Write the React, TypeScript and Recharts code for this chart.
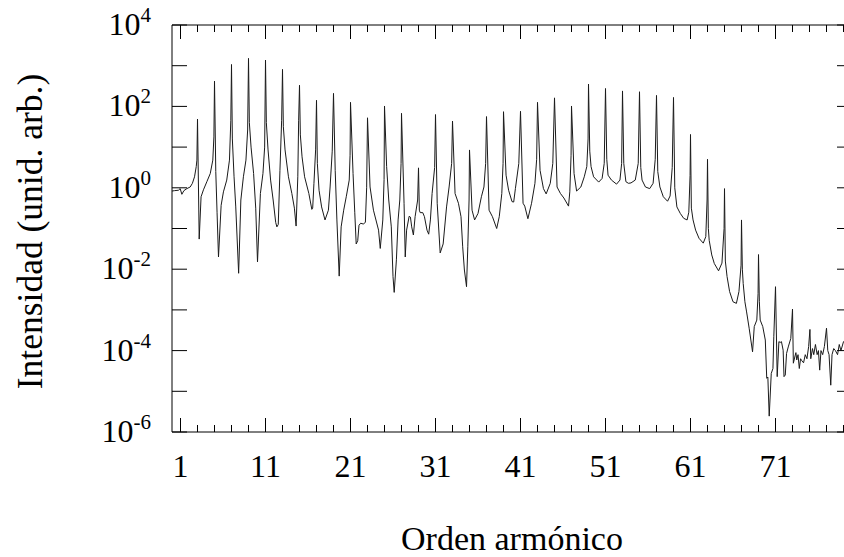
import React from 'react';
import { LineChart, Line, XAxis, YAxis } from 'recharts';

// Harmonic spectrum: [harmonic order, log10(intensity)] pairs.
const lowOrderPoints: [number, number][] = [
  [0.0, -0.08], [0.3, -0.07], [0.76, -0.06], [0.96, -0.02], [1.16, -0.16], [1.4, -0.07], [1.75, -0.02], [2.14, 0.02], [2.4, 0.11], [2.65, 0.27], [2.85, 0.52], [2.93, 0.68], [3.0, 1.69],
  [3.2, -1.26], [3.42, -0.22], [3.7, -0.05], [4.1, 0.15], [4.5, 0.35], [4.8, 0.68], [4.93, 1.25], [5.0, 2.62],
  [5.15, 0.4], [5.3, -0.6], [5.47, -1.7], [5.78, -0.43], [6.05, -0.1], [6.44, 0.19], [6.76, 0.68], [6.92, 1.66], [7.0, 3.03],
  [7.1, 1.2], [7.3, 0.27], [7.5, -0.47], [7.84, -2.1], [8.1, -0.3], [8.4, 0.27], [8.7, 0.68], [8.9, 1.42], [9.0, 3.18],
  [9.1, 1.6], [9.3, 1.0], [9.6, 0.35], [9.85, -0.5], [10.06, -1.82], [10.4, -0.14], [10.7, 0.35], [10.9, 1.0], [11.0, 3.14],
  [11.1, 1.6], [11.3, 0.93], [11.6, 0.19], [11.9, -0.3], [12.2, -0.85], [12.34, -0.96], [12.5, -0.9], [12.7, 0.43], [12.9, 1.66], [13.0, 2.91],
  [13.1, 1.5], [13.3, 0.93], [13.7, 0.27], [14.1, -0.14], [14.4, -0.5], [14.6, -0.94], [14.8, 0.27], [14.9, 1.66], [15.0, 2.52],
  [15.1, 1.3], [15.3, 0.76], [15.6, 0.27], [16.1, -0.14], [16.45, -0.53], [16.55, -0.5], [16.7, 0.11], [16.9, 0.95], [17.0, 2.15],
  [17.1, 0.6], [17.3, -0.06], [17.6, -0.47], [18.0, -0.79], [18.4, -0.55], [18.6, 0.02], [18.85, 0.9], [19.0, 2.32],
  [19.2, 0.43], [19.4, -0.79], [19.67, -2.17], [19.9, -0.96], [20.2, -0.55], [20.5, -0.22], [20.85, 0.19], [20.95, 0.8], [21.0, 2.1],
  [21.3, 0.35], [21.5, -0.6], [21.67, -1.38], [21.85, -1.3], [22.0, -0.92], [22.2, -0.87], [22.5, -0.89], [22.75, -0.85], [22.9, 0.0], [23.0, 1.72],
];

const plateauPoints: [number, number][] = [
  [23.3, 0.02], [23.7, -0.55], [24.3, -1.04], [24.5, -1.49], [24.8, -0.79], [24.95, 0.2], [25.0, 2.01],
  [25.25, 0.52], [25.5, -0.3], [25.8, -0.96], [26.0, -2.18], [26.14, -2.57], [26.4, -1.77], [26.6, -0.79], [26.8, -0.3], [26.95, 0.6], [27.0, 1.83],
  [27.3, -0.38], [27.44, -1.7], [27.6, -1.04], [27.9, -0.7], [28.05, -0.72], [28.2, -0.96], [28.4, -1.16], [28.6, -0.71], [28.9, -0.3], [29.0, 0.49],
  [29.1, -0.55], [29.2, -0.61], [29.5, -0.61], [29.7, -0.71], [30.0, -1.04], [30.2, -1.14], [30.4, -0.79], [30.6, -0.14], [30.9, 0.5], [31.0, 1.8],
  [31.2, -0.38], [31.55, -1.6], [31.9, -1.38], [32.3, -0.47], [32.6, 0.02], [32.9, 0.6], [33.0, 1.64],
  [33.3, -0.14], [33.7, -0.38], [34.0, -0.71], [34.2, -1.45], [34.4, -2.02], [34.65, -2.43], [34.8, -1.45], [34.95, -0.3], [35.0, 0.93],
  [35.3, -0.55], [35.6, -0.79], [36.0, -0.63], [36.4, -0.22], [36.7, 0.02], [36.9, 0.6], [37.0, 1.75],
  [37.3, -0.55], [37.7, -0.71], [38.2, -1.0], [38.5, -0.71], [38.8, -0.14], [38.95, 0.6], [39.0, 1.87],
  [39.3, 0.31], [39.6, -0.06], [40.0, -0.34], [40.2, -0.35], [40.4, -0.02], [40.8, 0.6], [41.0, 1.88],
  [41.3, -0.38], [41.5, -0.45], [41.87, -0.76], [42.3, -0.38], [42.7, 0.11], [42.9, 0.7], [43.0, 2.1],
  [43.3, 0.43], [43.7, -0.02], [44.02, -0.15], [44.5, 0.11], [44.8, 0.6], [45.0, 2.21],
  [45.3, 0.02], [45.7, -0.14], [46.1, -0.25], [46.65, -0.45], [46.8, -0.1], [46.95, 0.8], [47.0, 2.01],
  [47.3, 0.35], [47.6, -0.08], [48.1, 0.02], [48.5, 0.27], [48.8, 0.52], [48.95, 1.2], [49.0, 2.55],
  [49.15, 0.9], [49.3, 0.52], [49.6, 0.27], [50.2, 0.14], [50.6, 0.23], [50.85, 0.6], [51.0, 2.44],
  [51.15, 0.7], [51.3, 0.31], [51.7, 0.19], [52.3, 0.09], [52.7, 0.19], [52.9, 0.6], [53.0, 2.38],
  [53.15, 0.6], [53.4, 0.15], [53.7, 0.11], [54.0, 0.12], [54.5, 0.19], [54.85, 0.6], [55.0, 2.36],
  [55.15, 0.5], [55.3, 0.19], [55.7, 0.02], [56.2, -0.02], [56.6, 0.11], [56.85, 0.7], [57.0, 2.27],
  [57.15, 0.4], [57.4, 0.02], [57.8, -0.22], [58.3, -0.33], [58.6, -0.2], [58.85, 0.5], [59.0, 2.22],
];

const cutoffPoints: [number, number][] = [
  [59.15, 0.0], [59.4, -0.47], [59.8, -0.63], [60.2, -0.75], [60.6, -0.79], [60.8, -0.6], [60.95, 0.3], [61.0, 1.31],
  [61.1, -0.5], [61.3, -0.79], [61.6, -1.04], [62.0, -1.24], [62.5, -1.36], [62.8, -1.2], [62.95, -0.3], [63.0, 0.7],
  [63.1, -1.0], [63.2, -1.29], [63.5, -1.65], [63.8, -1.86], [64.3, -2.04], [64.7, -1.85], [64.95, -1.0], [65.0, -0.02],
  [65.1, -1.8], [65.3, -2.18], [65.6, -2.55], [66.0, -2.8], [66.4, -2.84], [66.7, -2.55], [66.95, -1.9], [67.0, -0.79],
  [67.1, -2.0], [67.2, -2.35], [67.4, -2.8], [67.6, -3.05], [67.9, -3.45], [68.1, -3.74], [68.3, -4.03], [68.5, -3.41], [68.8, -3.25], [68.95, -2.6], [69.0, -1.64],
  [69.1, -2.8], [69.2, -3.25], [69.5, -3.41], [69.8, -3.74], [69.97, -4.68], [70.1, -4.65], [70.26, -5.61], [70.5, -4.56], [70.7, -4.44], [70.8, -3.66], [71.0, -2.43],
  [71.2, -4.64], [71.4, -3.78], [71.55, -3.8], [71.7, -3.78], [71.9, -3.99], [72.0, -4.64], [72.15, -4.6], [72.3, -4.07], [72.5, -3.91], [72.8, -3.7], [73.0, -2.98],
  [73.1, -4.31], [73.3, -4.13], [73.4, -4.05], [73.5, -4.23], [73.65, -4.1], [73.8, -4.44], [73.95, -4.2], [74.1, -4.25], [74.3, -4.3], [74.5, -4.1], [74.7, -4.2], [74.9, -3.9],
  [75.05, -3.48], [75.15, -4.2], [75.35, -3.95], [75.5, -4.1], [75.7, -3.85], [75.9, -4.1], [76.05, -4.0], [76.2, -4.48], [76.35, -4.0], [76.55, -4.1], [76.75, -3.9],
  [77.0, -3.45], [77.15, -4.0], [77.3, -4.1], [77.5, -4.85], [77.65, -4.1], [77.85, -3.95], [78.05, -4.0], [78.3, -4.1], [78.5, -3.85], [78.7, -4.0], [79.0, -3.78],
  [79.3, -3.8], [79.6, -3.6], [80.0, -3.5],
];

// Axis ticks
const xTicks = [1, 3, 5, 7, 9, 11, 13, 15, 17, 19, 21, 23, 25, 27, 29, 31, 33, 35, 37, 39, 41, 43, 45, 47, 49, 51, 53, 55, 57, 59, 61, 63, 65, 67, 69, 71, 73, 75, 77, 79];
const xLabelled = [1, 11, 21, 31, 41, 51, 61, 71];
const yExponents = [-6, -5, -4, -3, -2, -1, 0, 1, 2, 3, 4];
const yLabelledExponents = [-6, -4, -2, 0, 2, 4];

const data = [...lowOrderPoints, ...plateauPoints, ...cutoffPoints].map(([order, logI]) => ({
  order,
  intensity: Math.pow(10, logI),
}));

const yTicks = yExponents.map((e) => Math.pow(10, e));
const FONT = '"Liberation Serif", "Times New Roman", serif';
const MAJOR_X = 14;
const MINOR_X = 7;
const Y_TICK = 15;

const expOf = (v: number) => Math.round(Math.log10(v));

const LeftTick = (props: any) => {
  const { x, y, payload } = props;
  const e = expOf(payload.value);
  return (
    <g>
      <line x1={x} x2={x + Y_TICK} y1={y} y2={y} stroke="#000" strokeWidth={1} />
      {yLabelledExponents.includes(e) && (
        <text x={x - 21} y={y + 10} textAnchor="end" fontFamily={FONT} fontSize={32} fill="#000">
          <tspan>10</tspan>
          <tspan dy={-13} fontSize={21}>{String(e)}</tspan>
        </text>
      )}
    </g>
  );
};

const RightTick = (props: any) => {
  const { x, y } = props;
  return <line x1={x - Y_TICK} x2={x} y1={y} y2={y} stroke="#000" strokeWidth={1} />;
};

const BottomTick = (props: any) => {
  const { x, y, payload } = props;
  const major = xLabelled.includes(payload.value);
  const len = major ? MAJOR_X : MINOR_X;
  return (
    <g>
      <line x1={x} x2={x} y1={y - len} y2={y} stroke="#000" strokeWidth={1} />
      {major && (
        <text x={x} y={y + 44.5} textAnchor="middle" fontFamily={FONT} fontSize={32} fill="#000">
          {payload.value}
        </text>
      )}
    </g>
  );
};

const TopTick = (props: any) => {
  const { x, y, payload } = props;
  const len = xLabelled.includes(payload.value) ? MAJOR_X : MINOR_X;
  return <line x1={x} x2={x} y1={y} y2={y + len} stroke="#000" strokeWidth={1} />;
};

const XTitle = (props: any) => {
  const { viewBox } = props;
  return (
    <text x={viewBox.x + viewBox.width / 2} y={550} textAnchor="middle" fontFamily={FONT} fontSize={34} fill="#000">
      Orden armónico
    </text>
  );
};

const YTitle = (props: any) => {
  const { viewBox } = props;
  const cy = viewBox.y + viewBox.height / 2 + 3;
  return (
    <text x={41.5} y={cy} transform={`rotate(-90 41.5 ${cy})`} textAnchor="middle" fontFamily={FONT} fontSize={35.5} fill="#000">
      Intensidad (unid. arb.)
    </text>
  );
};

export default function App() {
  return (
    <div style={{ position: 'absolute', left: 0, top: 0, width: 844, height: 557, overflow: 'hidden', background: '#fff' }}>
      <LineChart width={870} height={557} data={data} margin={{ top: 0, right: 0, bottom: 0, left: 0 }}>
        <XAxis
          xAxisId="bottom"
          dataKey="order"
          type="number"
          domain={[0, 80]}
          ticks={xTicks}
          interval={0}
          height={125}
          tickSize={0}
          tickMargin={0}
          tickLine={false}
          axisLine={{ stroke: '#000', strokeWidth: 1 }}
          tick={BottomTick}
          label={<XTitle />}
        />
        <XAxis
          xAxisId="top"
          orientation="top"
          dataKey="order"
          type="number"
          domain={[0, 80]}
          ticks={xTicks}
          interval={0}
          height={25}
          tickSize={0}
          tickMargin={0}
          tickLine={false}
          axisLine={{ stroke: '#000', strokeWidth: 1 }}
          tick={TopTick}
        />
        <YAxis
          yAxisId="left"
          type="number"
          scale="log"
          domain={[1e-6, 1e4]}
          allowDataOverflow
          ticks={yTicks}
          interval={0}
          width={172}
          tickSize={0}
          tickMargin={0}
          tickLine={false}
          axisLine={{ stroke: '#000', strokeWidth: 1 }}
          tick={LeftTick}
          label={<YTitle />}
        />
        <YAxis
          yAxisId="right"
          orientation="right"
          type="number"
          scale="log"
          domain={[1e-6, 1e4]}
          allowDataOverflow
          ticks={yTicks}
          interval={0}
          width={18}
          tickSize={0}
          tickMargin={0}
          tickLine={false}
          axisLine={{ stroke: '#000', strokeWidth: 1 }}
          tick={RightTick}
        />
        <Line
          xAxisId="bottom"
          yAxisId="left"
          type="linear"
          dataKey="intensity"
          stroke="#1a1a1a"
          strokeWidth={1}
          dot={false}
          isAnimationActive={false}
        />
      </LineChart>
    </div>
  );
}
